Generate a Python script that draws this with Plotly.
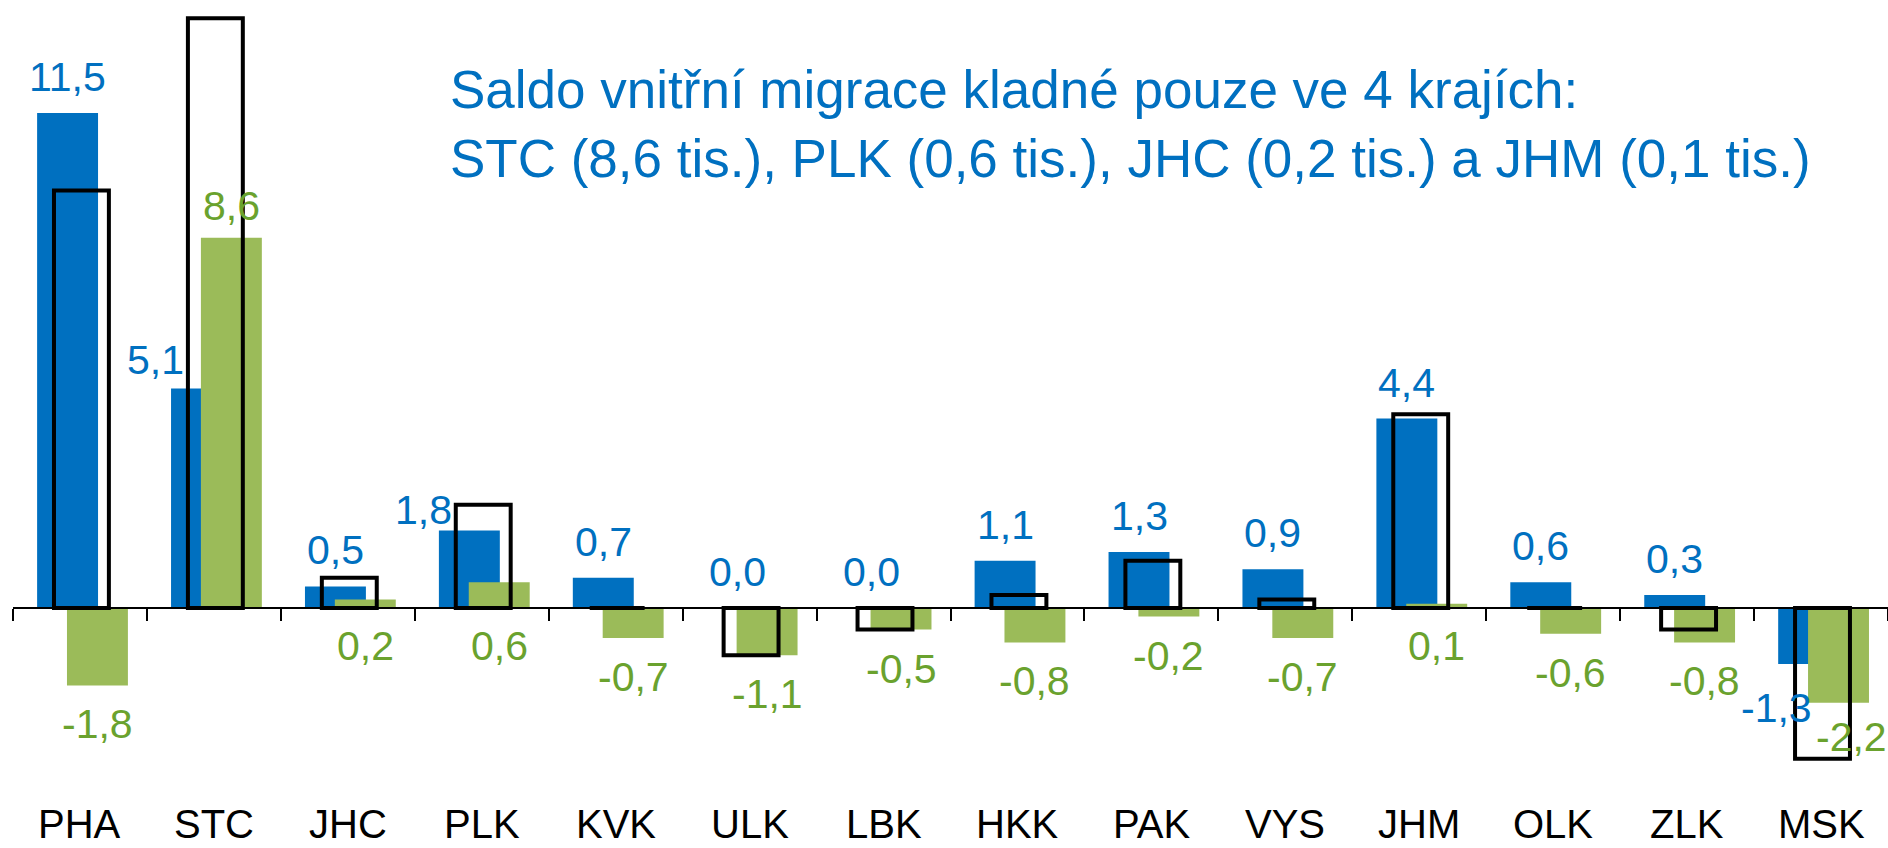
import plotly.graph_objects as go

# ---------------- data ----------------
categories = ["PHA", "STC", "JHC", "PLK", "KVK", "ULK", "LBK",
              "HKK", "PAK", "VYS", "JHM", "OLK", "ZLK", "MSK"]
foreign_balance = [11.5, 5.1, 0.5, 1.8, 0.7, 0.0, 0.0, 1.1, 1.3, 0.9, 4.4, 0.6, 0.3, -1.3]
internal_balance = [-1.8, 8.6, 0.2, 0.6, -0.7, -1.1, -0.5, -0.8, -0.2, -0.7, 0.1, -0.6, -0.8, -2.2]
total_balance = [9.7, 13.7, 0.7, 2.4, 0.0, -1.1, -0.5, 0.3, 1.1, 0.2, 4.5, 0.0, -0.5, -3.5]
note_lines = ["Saldo vnitřní migrace kladné pouze ve 4 krajích:",
              "STC (8,6 tis.), PLK (0,6 tis.), JHC (0,2 tis.) a JHM (0,1 tis.)"]

# ---------------- style ----------------
BLUE = "#0070C0"
GREEN_BAR = "#9BBB59"
GREEN_TXT = "#6AA22E"
FONT = "Arial, 'Liberation Sans', sans-serif"
LABEL_SIZE = 41

W = 0.455
BLUE_OFF = -0.32
GREEN_OFF = -0.097
TOT_W = 0.41
TOT_OFF = -0.194
BLUE_C = BLUE_OFF + W / 2
GREEN_C = GREEN_OFF + W / 2

Y_MIN, Y_MAX = -4.228, 14.123
PLOT_H = 790

# manual label adjustments (screen px: dy positive = down)
blue_adjust = {"STC": (-28, -46), "PLK": (-21, -46), "MSK": (44, -32)}
green_below_axis = {"JHC", "PLK", "JHM"}
green_adjust = {"MSK": (34, 13), "STC": (-32, 0)}


def fmt(v):
    return f"{v:.1f}".replace(".", ",")


fig = go.Figure()
fig.add_trace(go.Bar(x=categories, y=foreign_balance, width=W, offset=BLUE_OFF,
                     marker=dict(color=BLUE, line=dict(width=0)), hoverinfo="skip"))
fig.add_trace(go.Bar(x=categories, y=internal_balance, width=W, offset=GREEN_OFF,
                     marker=dict(color=GREEN_BAR, line=dict(width=0)), hoverinfo="skip"))
fig.add_trace(go.Bar(x=categories, y=total_balance, width=TOT_W, offset=TOT_OFF,
                     marker=dict(color="rgba(0,0,0,0)", line=dict(color="black", width=4)),
                     hoverinfo="skip"))

annotations = []
for i, (cat, v) in enumerate(zip(categories, foreign_balance)):
    dy, dx = blue_adjust.get(cat, (-36 if v >= 0 else 36, 0))
    annotations.append(dict(x=i + BLUE_C, y=v, xref="x", yref="y", text=fmt(v),
                            showarrow=False, xanchor="center", yanchor="middle",
                            yshift=-dy, xshift=dx,
                            font=dict(family=FONT, size=LABEL_SIZE, color=BLUE)))
for i, (cat, v) in enumerate(zip(categories, internal_balance)):
    if cat in green_below_axis:
        y0, dy, dx = 0, 38, 0
    else:
        y0 = v
        dy, dx = green_adjust.get(cat, (-34 if v >= 0 else 39, 0))
    annotations.append(dict(x=i + GREEN_C, y=y0, xref="x", yref="y", text=fmt(v),
                            showarrow=False, xanchor="center", yanchor="middle",
                            yshift=-dy, xshift=dx,
                            font=dict(family=FONT, size=LABEL_SIZE, color=GREEN_TXT)))
for i, cat in enumerate(categories):
    annotations.append(dict(x=i, y=1 - 847 / PLOT_H, xref="x", yref="paper", text=cat,
                            showarrow=False, xanchor="center", yanchor="bottom",
                            borderpad=0,
                            font=dict(family=FONT, size=40, color="black")))
annotations.append(dict(x=(448 - 13) / 1875, y=1 - 124.5 / PLOT_H, xref="paper", yref="paper",
                        text="<br>".join(note_lines), showarrow=False,
                        xanchor="left", yanchor="middle", align="left",
                        font=dict(family=FONT, size=53, color=BLUE)))

zero_pos = (0 - Y_MIN) / (Y_MAX - Y_MIN)
fig.update_layout(
    width=1888, height=848,
    margin=dict(l=13, r=0, t=0, b=848 - PLOT_H, pad=0),
    paper_bgcolor="white", plot_bgcolor="white",
    barmode="overlay", showlegend=False,
    annotations=annotations,
    xaxis=dict(type="category", categoryorder="array", categoryarray=categories,
               range=[-0.5, len(categories) - 0.5],
               anchor="free", position=zero_pos,
               showline=True, linecolor="black", linewidth=2,
               ticks="outside", tickson="boundaries", ticklen=12, tickwidth=2,
               tickcolor="black", showticklabels=False, showgrid=False, zeroline=False),
    yaxis=dict(range=[Y_MIN, Y_MAX], visible=False, showgrid=False, zeroline=False),
)

fig.write_html("out.html", config={"displayModeBar": False},
               post_script="document.body.style.margin='0';document.body.style.overflow='hidden';")
